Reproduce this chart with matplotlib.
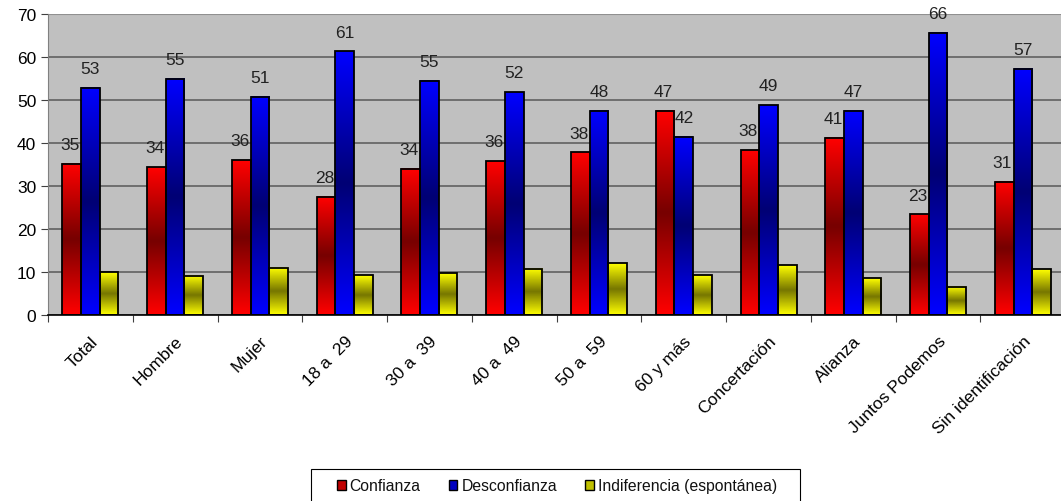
import matplotlib.pyplot as plt
import matplotlib.transforms as mtransforms
import numpy as np
from matplotlib.patches import Patch, Rectangle
from matplotlib.colors import LinearSegmentedColormap

plt.rcParams['font.family'] = ['Liberation Sans', 'DejaVu Sans']

# ------ data ------
categories = ['Total', 'Hombre', 'Mujer', '18 a  29', '30 a  39', '40 a  49', '50 a  59',
              '60 y más', 'Concertación', 'Alianza', 'Juntos Podemos', 'Sin identificación']
confianza = [35.2, 34.4, 36.0, 27.5, 34.0, 35.8, 37.8, 47.5, 38.3, 41.2, 23.4, 31.0]
desconfianza = [52.8, 55.0, 50.8, 61.3, 54.5, 51.8, 47.5, 41.5, 48.8, 47.5, 65.6, 57.3]
indiferencia = [10.0, 9.1, 11.0, 9.3, 9.7, 10.8, 12.0, 9.3, 11.6, 8.6, 6.6, 10.6]
conf_labels = [35, 34, 36, 28, 34, 36, 38, 47, 38, 41, 23, 31]
desc_labels = [53, 55, 51, 61, 55, 52, 48, 42, 49, 47, 66, 57]
series_names = ['Confianza', 'Desconfianza', 'Indiferencia (espontánea)']

# bright at top/bottom, dark in the middle (Excel style gradient)
grad_colors = [('#FF0000', '#780000'), ('#0000FF', '#000075'), ('#FFFF00', '#787800')]
legend_colors = ['#C00000', '#0000C0', '#C0C000']

# ------ figure ------
W, H = 1061, 502
fig = plt.figure(figsize=(W / 100, H / 100), dpi=100)
ax = fig.add_axes([48 / W, (H - 316) / H, 1 - 48 / W, (316 - 15) / H])
ax.set_facecolor('#C0C0C0')

x = np.arange(len(categories))
w = 0.22

grad = np.concatenate([np.linspace(1, 0, 50), np.linspace(0, 1, 50)]).reshape(-1, 1)

for k, vals in enumerate([confianza, desconfianza, indiferencia]):
    cmap = LinearSegmentedColormap.from_list('g%d' % k, [grad_colors[k][1], grad_colors[k][0]])
    xs = x + (k - 1) * w
    for xi, v in zip(xs, vals):
        ax.imshow(grad, cmap=cmap, aspect='auto', extent=(xi - w / 2, xi + w / 2, 0, v),
                  zorder=2, interpolation='bilinear')
    ax.bar(xs, vals, width=w, fill=False, edgecolor='black', linewidth=1.3, zorder=3)

ax.set_xlim(-0.5, 11.45)
ax.set_ylim(0, 70)

# data labels
for i in range(len(categories)):
    ax.text(x[i] - w - 0.02, confianza[i] + 4.5, str(conf_labels[i]), ha='center', va='center',
            fontsize=12.5, color='#222222', zorder=4)
    ax.text(x[i], desconfianza[i] + 4.5, str(desc_labels[i]), ha='center', va='center',
            fontsize=12.5, color='#222222', zorder=4)

# grid and axes
ax.set_yticks(np.arange(0, 71, 10))
ax.yaxis.grid(True, color='#606060', linewidth=1.2, zorder=1)
ax.set_axisbelow(True)
ax.set_xticks(np.arange(-0.5, 11.5, 1))
ax.set_xticklabels([])
ax.set_xticks(x, minor=True)
ax.set_xticklabels(categories, minor=True, rotation=45, ha='right', rotation_mode='anchor',
                   fontsize=12.5)
shift = mtransforms.ScaledTranslation(-4 / 100, 0, fig.dpi_scale_trans)
for lbl in ax.get_xticklabels(minor=True):
    lbl.set_transform(lbl.get_transform() + shift)
ax.tick_params(axis='x', which='minor', length=0, pad=13)
ax.tick_params(axis='x', which='major', length=5, direction='out', color='#404040')
ax.tick_params(axis='y', length=5, direction='out', labelsize=12.5, color='#404040')
for s in ['top', 'right']:
    ax.spines[s].set_visible(False)
ax.spines['left'].set_color('#808080')
ax.spines['bottom'].set_color('black')
ax.spines['bottom'].set_linewidth(1.2)
ax.axhline(70, color='#909090', linewidth=1.5, zorder=1)

# legend: frame drawn by hand (it runs off the bottom of the image)
fig.patches.append(Rectangle((311 / W, (H - 512) / H), (800 - 311) / W, 42 / H,
                             transform=fig.transFigure, fill=False, edgecolor='black',
                             linewidth=0.8))
handles = [Patch(facecolor=c, edgecolor='black', linewidth=1) for c in legend_colors]
leg = fig.legend(handles, series_names, loc='center left', bbox_to_anchor=(337 / W, 1 - 487 / H),
                 ncol=3, frameon=False, fontsize=11.3,
                 handlelength=0.55, handleheight=0.55, handletextpad=0.25, columnspacing=1.8,
                 borderpad=0, borderaxespad=0)
for t in leg.get_texts():
    t.set_color('#111111')

fig.savefig('out.png', dpi=100)
